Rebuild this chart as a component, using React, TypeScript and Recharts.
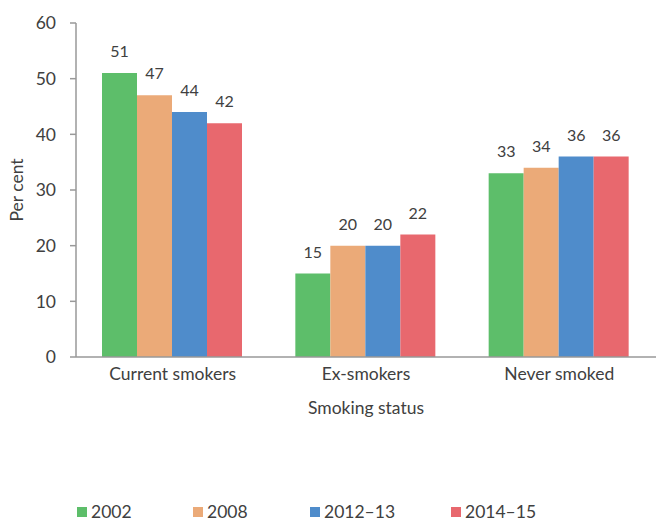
import { Bar, BarChart, XAxis, YAxis, LabelList } from "recharts";

const categories = ["Current smokers", "Ex-smokers", "Never smoked"];
const years = ["2002", "2008", "2012–13", "2014–15"];
const values2002 = [51, 15, 33];
const values2008 = [47, 20, 34];
const values201213 = [44, 20, 36];
const values201415 = [42, 22, 36];
const yTicks = [0, 10, 20, 30, 40, 50, 60];

const colors = ["#5DBE6A", "#EBAA78", "#4F8CCB", "#E8686E"];
const legendX = [77, 193, 310, 451];

const data = categories.map((name, i) => ({
  name,
  y2002: values2002[i],
  y2008: values2008[i],
  y201213: values201213[i],
  y201415: values201415[i],
}));
const keys = ["y2002", "y2008", "y201213", "y201415"];

const font = "Lato, 'Open Sans', sans-serif";
const textColor = "#404040";
const axisColor = "#999";

export default function App() {
  return (
    <div style={{ position: "absolute", left: 0, top: 0, width: 656, height: 521, fontFamily: font, background: "#fff" }}>
      <BarChart
        width={656}
        height={521}
        data={data}
        margin={{ top: 23, right: 0, left: 0, bottom: 0 }}
        barGap={0}
        barCategoryGap={26}
      >
        <YAxis
          width={76}
          domain={[0, 60]}
          ticks={yTicks}
          interval={0}
          stroke={axisColor}
          strokeWidth={1.5}
          tickSize={6}
          tickMargin={14}
          tick={{ fontSize: 17.5, fill: textColor, fontFamily: font }}
          label={{
            value: "Per cent",
            angle: -90,
            position: "insideLeft",
            offset: 17,
            style: { fontSize: 17.5, fill: textColor, fontFamily: font, textAnchor: "middle" },
          }}
        />
        <XAxis
          dataKey="name"
          height={164}
          stroke={axisColor}
          strokeWidth={1.5}
          tickLine={false}
          tickSize={0}
          tickMargin={11}
          tick={{ fontSize: 17.5, fill: textColor, fontFamily: font }}
          label={{
            value: "Smoking status",
            position: "insideTop",
            offset: 45,
            style: { fontSize: 17.5, fill: textColor, fontFamily: font },
          }}
        />
        {keys.map((k, i) => (
          <Bar key={k} dataKey={k} name={years[i]} fill={colors[i]} isAnimationActive={false}>
            <LabelList
              dataKey={k}
              position="top"
              offset={16}
              style={{ fontSize: 16, fill: textColor, fontFamily: font }}
            />
          </Bar>
        ))}
      </BarChart>
      {years.map((y, i) => (
        <div
          key={y}
          style={{
            position: "absolute",
            left: legendX[i],
            top: 502,
            display: "flex",
            alignItems: "center",
            fontSize: 17.5,
            color: textColor,
            lineHeight: "20px",
          }}
        >
          <span style={{ display: "inline-block", width: 10, height: 10, background: colors[i], marginRight: 4 }} />
          {y}
        </div>
      ))}
    </div>
  );
}
